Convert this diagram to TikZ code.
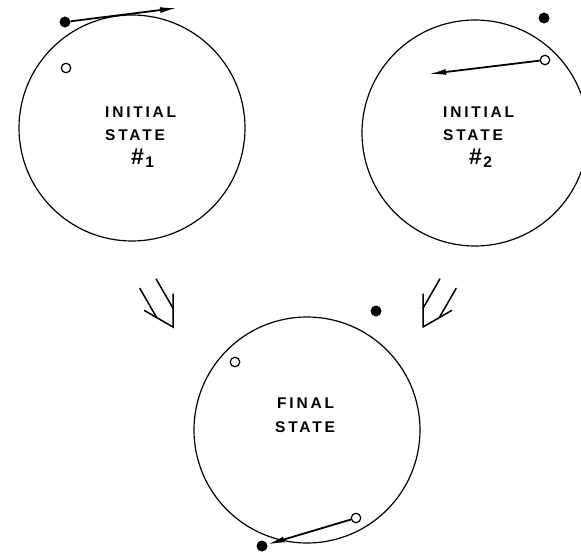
\documentclass[tikz,border=0pt]{standalone}
\usepackage{fontspec}
\setmainfont{Liberation Sans}
\newfontfamily\lettering[LetterSpace=18]{Liberation Sans Bold}
\usetikzlibrary{arrows.meta}
\newcommand\statenum[1]{{\fontsize{23}{23}\selectfont\#}\kern1.5pt\raisebox{-2.5pt}{#1}}
\begin{document}
\begin{tikzpicture}[x=1pt,y=-1pt,
  ring/.style={circle, draw, line width=1.2pt, minimum size=226pt, inner sep=0pt},
  fulldot/.style={circle, fill, inner sep=0pt, minimum size=11pt},
  opendot/.style={circle, draw, fill=white, line width=1.2pt, inner sep=0pt, minimum size=9.5pt},
  vec/.style={line width=1.8pt, -{Latex[length=17pt,width=6pt]}},
  word/.style={anchor=west, inner sep=0pt, font=\lettering\fontsize{15.5}{18}\selectfont},
  flow/.style={line width=1.5pt, line cap=round},
]
\useasboundingbox (0,0) rectangle (581,556);
\clip (0,0) rectangle (581,556);

% the three states
\node[ring] (s1) at (132,128) {};
\node[ring] (s2) at (475,133) {};
\node[ring] (s3) at (307,430) {};

% labels
\node[word] (l1a) at (105,112) {INITIAL};
\node[word] (l1b) at (105,135) {STATE};
\node[word] (l1c) at (131,158) {\statenum{1}};
\node[word] (l2a) at (443,112) {INITIAL};
\node[word] (l2b) at (443,135) {STATE};
\node[word] (l2c) at (469,158) {\statenum{2}};
\node[word] (l3a) at (277,403) {FINAL};
\node[word] (l3b) at (275,427) {STATE};

% initial state 1
\node[fulldot] (d1) at (65,22) {};
\node[opendot] (o1) at (66,68) {};
\coordinate (t1) at (177,8);
\draw[vec] (d1) -- (t1);

% initial state 2
\node[fulldot] (d2) at (544,18) {};
\node[opendot] (o2) at (545,60) {};
\coordinate (t2) at (429,74);
\draw[vec] (o2) -- (t2);

% final state
\node[opendot] (o3) at (235,362) {};
\node[fulldot] (d3) at (376,311) {};
\node[opendot] (o4) at (356,518) {};
\node[fulldot] (d4) at (262,546) {};
\draw[vec] (o4) -- (d4);

% double arrows leading to the final state
\begin{scope}[shift={(173,327)}, rotate=-60]
  \draw[flow] (150:33) -- (0,0) -- (210:33);
  \draw[flow] (-16.3,9.4) -- (-50,9.4);
  \draw[flow] (-16.3,-9.4) -- (-50,-9.4);
\end{scope}
\begin{scope}[shift={(423,327)}, rotate=-120]
  \draw[flow] (150:33) -- (0,0) -- (210:33);
  \draw[flow] (-16.3,9.4) -- (-50,9.4);
  \draw[flow] (-16.3,-9.4) -- (-50,-9.4);
\end{scope}
\end{tikzpicture}
\end{document}
